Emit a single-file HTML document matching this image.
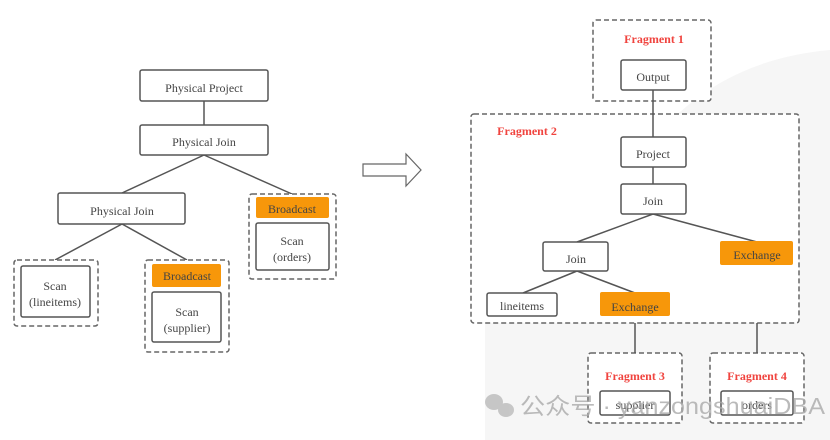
<!DOCTYPE html>
<html><head><meta charset="utf-8"><style>
html,body{margin:0;padding:0;background:#fff;}
svg{display:block;}
text{font-family:"Liberation Serif",serif;fill:#444;font-size:12px;text-anchor:middle;}
.f{fill:#f0443f;font-weight:bold;font-size:12px;}
</style></head><body>
<svg width="830" height="440" viewBox="0 0 830 440" xmlns="http://www.w3.org/2000/svg">
<path d="M680,112 Q740,58 830,50 L830,440 L485,440 L485,300 Z" fill="#f6f6f6"/>
<g stroke="#555" stroke-width="1.5" fill="none">
<line x1="204" y1="101" x2="204" y2="125"/>
<line x1="204" y1="155" x2="122" y2="193"/>
<line x1="204" y1="155" x2="292" y2="194"/>
<line x1="122" y1="224" x2="55" y2="260"/>
<line x1="122" y1="224" x2="187" y2="260"/>
</g>
<g stroke="#666" stroke-width="1.5" fill="#fff" stroke-dasharray="5,3">
<rect x="14" y="260" width="84" height="66" rx="3"/>
<rect x="145" y="260" width="84" height="92" rx="3"/>
<rect x="249" y="194" width="87" height="85" rx="3"/>
</g>
<g stroke="#555" stroke-width="1.5" fill="#fff">
<rect x="140" y="70" width="128" height="31" rx="2"/>
<rect x="140" y="125" width="128" height="30" rx="2"/>
<rect x="58" y="193" width="127" height="31" rx="2"/>
<rect x="21" y="266" width="69" height="51" rx="2"/>
<rect x="152" y="292" width="69" height="50" rx="2"/>
<rect x="256" y="223" width="73" height="47" rx="2"/>
</g>
<rect x="152" y="264" width="69" height="23" rx="2" fill="#f7970a"/>
<rect x="256" y="197" width="73" height="21" rx="2" fill="#f7970a"/>
<text x="204" y="92">Physical Project</text>
<text x="204" y="146">Physical Join</text>
<text x="122" y="215">Physical Join</text>
<text x="55" y="290">Scan</text>
<text x="55" y="306">(lineitems)</text>
<text x="187" y="280">Broadcast</text>
<text x="187" y="316">Scan</text>
<text x="187" y="332">(supplier)</text>
<text x="292" y="213">Broadcast</text>
<text x="292" y="245">Scan</text>
<text x="292" y="261">(orders)</text>
<path d="M363,164 L406,164 L406,154 L421,170 L406,186 L406,176 L363,176 Z" fill="#fff" stroke="#666" stroke-width="1.2"/>
<g stroke="#666" stroke-width="1.5" fill="#fff" stroke-dasharray="5,3">
<rect x="593" y="20" width="118" height="81" rx="3"/>
<rect x="471" y="114" width="328" height="209" rx="3"/>
<rect x="588" y="353" width="94" height="70" rx="3"/>
<rect x="710" y="353" width="94" height="70" rx="3"/>
</g>
<g stroke="#555" stroke-width="1.5" fill="none">
<line x1="653" y1="90" x2="653" y2="137"/>
<line x1="653" y1="167" x2="653" y2="184"/>
<line x1="653" y1="214" x2="577" y2="242"/>
<line x1="653" y1="214" x2="757" y2="242"/>
<line x1="577" y1="271" x2="523" y2="293"/>
<line x1="577" y1="271" x2="635" y2="293"/>
<line x1="635" y1="323" x2="635" y2="353"/>
<line x1="757" y1="323" x2="757" y2="353"/>
</g>
<g stroke="#555" stroke-width="1.5" fill="#fff">
<rect x="621" y="60" width="65" height="30" rx="2"/>
<rect x="621" y="137" width="65" height="30" rx="2"/>
<rect x="621" y="184" width="65" height="30" rx="2"/>
<rect x="543" y="242" width="65" height="29" rx="2"/>
<rect x="487" y="293" width="70" height="23" rx="2"/>
<rect x="600" y="391" width="70" height="24" rx="2"/>
<rect x="721" y="391" width="72" height="24" rx="2"/>
</g>
<rect x="720" y="241" width="73" height="24" rx="2" fill="#f7970a"/>
<rect x="600" y="292" width="70" height="24" rx="2" fill="#f7970a"/>
<text class="f" x="654" y="43">Fragment 1</text>
<text class="f" x="527" y="135">Fragment 2</text>
<text class="f" x="635" y="380">Fragment 3</text>
<text class="f" x="757" y="380">Fragment 4</text>
<text x="653" y="81">Output</text>
<text x="653" y="158">Project</text>
<text x="653" y="205">Join</text>
<text x="576" y="263">Join</text>
<text x="757" y="259">Exchange</text>
<text x="522" y="310">lineitems</text>
<text x="635" y="311">Exchange</text>
<text x="635" y="409">supplier</text>
<text x="757" y="409">orders</text>
<g fill="#bbb" opacity="0.8">
<ellipse cx="494" cy="402" rx="9" ry="8"/>
<ellipse cx="506" cy="410" rx="8" ry="7"/>
</g>
<text x="520" y="414" textLength="305" lengthAdjust="spacingAndGlyphs" style="text-anchor:start;font-family:'Liberation Sans','Noto Sans CJK SC',sans-serif;font-size:23px;fill:#aaa;opacity:0.8">公众号 · yanzongshuaiDBA</text>
</svg>
</body></html>
